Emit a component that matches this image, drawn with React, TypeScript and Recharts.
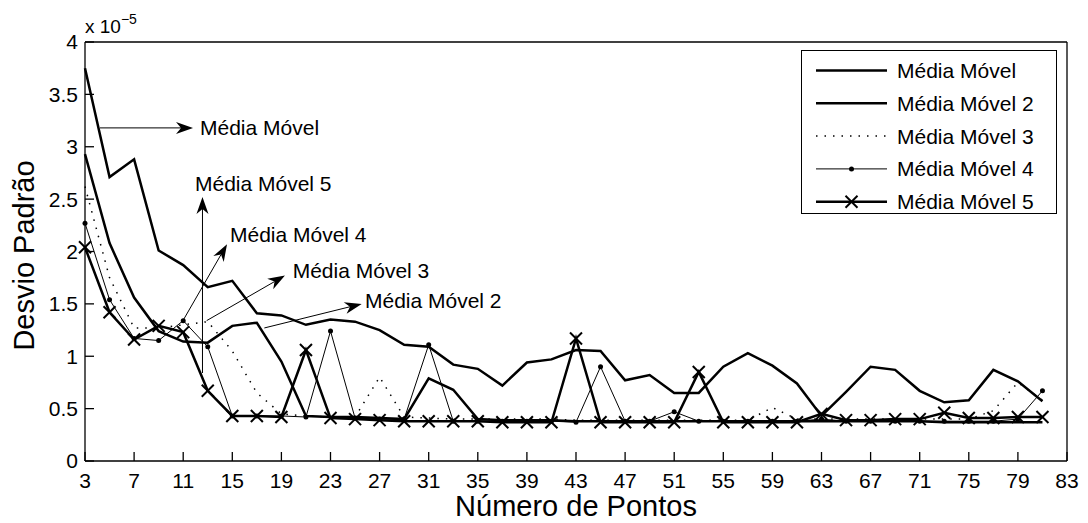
import { Legend, Line, LineChart, ReferenceDot, ReferenceLine, XAxis, YAxis } from "recharts";

// número de pontos da janela
const pontos = [
  3, 5, 7, 9, 11, 13, 15, 17, 19, 21, 23, 25, 27, 29, 31, 33, 35, 37, 39, 41,
  43, 45, 47, 49, 51, 53, 55, 57, 59, 61, 63, 65, 67, 69, 71, 73, 75, 77, 79, 81,
];

// desvio padrão (x 10^-5)
const mediaMovel = [
  3.75, 2.71, 2.88, 2.01, 1.87, 1.66, 1.72, 1.41, 1.39, 1.3, 1.35, 1.33, 1.25, 1.11, 1.09, 0.92, 0.88, 0.72, 0.94, 0.97,
  1.06, 1.05, 0.77, 0.82, 0.65, 0.65, 0.9, 1.03, 0.91, 0.74, 0.43, 0.66, 0.9, 0.87, 0.67, 0.56, 0.58, 0.87, 0.76, 0.57,
];
const mediaMovel2 = [
  2.93, 2.08, 1.56, 1.24, 1.14, 1.13, 1.29, 1.32, 0.95, 0.43, 0.42, 0.42, 0.41, 0.4, 0.79, 0.68, 0.4, 0.39, 0.39, 0.39,
  0.38, 0.38, 0.38, 0.38, 0.38, 0.38, 0.38, 0.38, 0.38, 0.38, 0.38, 0.38, 0.38, 0.38, 0.38, 0.37, 0.37, 0.37, 0.37, 0.37,
];
const mediaMovel3 = [
  2.62, 1.75, 1.27, 1.27, 1.3, 1.33, 1.05, 0.65, 0.45, 0.43, 0.42, 0.42, 0.8, 0.42, 0.41, 0.4, 0.4, 0.4, 0.4, 0.4,
  0.39, 0.39, 0.39, 0.39, 0.39, 0.39, 0.39, 0.39, 0.51, 0.4, 0.4, 0.4, 0.4, 0.4, 0.4, 0.4, 0.4, 0.48, 0.75, 0.58,
];
const mediaMovel4 = [
  2.27, 1.54, 1.17, 1.15, 1.34, 1.09, 0.43, 0.43, 0.43, 0.42, 1.24, 0.41, 0.4, 0.4, 1.11, 0.38, 0.38, 0.38, 0.38, 0.38,
  0.37, 0.9, 0.38, 0.38, 0.47, 0.38, 0.38, 0.38, 0.38, 0.38, 0.4, 0.38, 0.38, 0.38, 0.38, 0.38, 0.38, 0.38, 0.4, 0.67,
];
const mediaMovel5 = [
  2.04, 1.42, 1.16, 1.29, 1.23, 0.67, 0.43, 0.43, 0.42, 1.06, 0.41, 0.4, 0.39, 0.38, 0.38, 0.38, 0.38, 0.37, 0.37, 0.37,
  1.17, 0.37, 0.37, 0.37, 0.37, 0.85, 0.37, 0.37, 0.37, 0.37, 0.45, 0.39, 0.39, 0.4, 0.4, 0.46, 0.41, 0.41, 0.42, 0.42,
];

const xTicks = [3, 7, 11, 15, 19, 23, 27, 31, 35, 39, 43, 47, 51, 55, 59, 63, 67, 71, 75, 79, 83];
const yTicks = [0, 0.5, 1, 1.5, 2, 2.5, 3, 3.5, 4];

const seriesNames = ["Média Móvel", "Média Móvel 2", "Média Móvel 3", "Média Móvel 4", "Média Móvel 5"];

// setas de anotação: cauda -> ponta, e onde começa o texto (unidades dos eixos)
const annotations = [
  { text: "Média Móvel", from: [4.22, 3.18], to: [11.8, 3.18], label: [12.37, 3.18] },
  { text: "Média Móvel 5", from: [12.57, 0.84], to: [12.57, 2.52], label: [11.96, 2.65] },
  { text: "Média Móvel 4", from: [10.98, 1.34], to: [14.57, 2.07], label: [14.81, 2.16] },
  { text: "Média Móvel 3", from: [12.91, 1.34], to: [19.29, 1.77], label: [19.92, 1.82] },
  { text: "Média Móvel 2", from: [17.61, 1.27], to: [25.54, 1.5], label: [25.81, 1.53] },
];

const data = pontos.map((x, i) => ({
  x,
  m1: mediaMovel[i],
  m2: mediaMovel2[i],
  m3: mediaMovel3[i],
  m4: mediaMovel4[i],
  m5: mediaMovel5[i],
}));

const FONT = "'Liberation Sans', Arial, Helvetica, sans-serif";

function arrowShape(props: any) {
  const { x1, y1, x2, y2 } = props;
  const ang = Math.atan2(y2 - y1, x2 - x1);
  const c = Math.cos(ang);
  const s = Math.sin(ang);
  const L = 17;
  const W = 6;
  const N = 12;
  const bx = x2 - L * c;
  const by = y2 - L * s;
  const nx = x2 - N * c;
  const ny = y2 - N * s;
  const pts = `${x2},${y2} ${bx - W * s},${by + W * c} ${nx},${ny} ${bx + W * s},${by - W * c}`;
  return (
    <g>
      <line x1={x1} y1={y1} x2={nx} y2={ny} stroke="#000" strokeWidth={1} />
      <polygon points={pts} fill="#000" />
    </g>
  );
}

function XMark(props: any) {
  const { cx, cy } = props;
  const r = 6;
  return (
    <g>
      <line x1={cx - r} y1={cy - r} x2={cx + r} y2={cy + r} stroke="#000" strokeWidth={2} />
      <line x1={cx - r} y1={cy + r} x2={cx + r} y2={cy - r} stroke="#000" strokeWidth={2} />
    </g>
  );
}

function LegendBox() {
  const rows = [
    { dash: undefined, width: 2.5, marker: null },
    { dash: undefined, width: 2.5, marker: null },
    { dash: "1.5 7", width: 1.5, marker: null },
    { dash: undefined, width: 1, marker: "dot" },
    { dash: undefined, width: 2.5, marker: "x" },
  ];
  return (
    <div
      style={{
        width: 256,
        height: 164,
        border: "1.5px solid #000",
        background: "#fff",
        boxSizing: "border-box",
      }}
    >
      <svg width={253} height={161} style={{ display: "block", overflow: "visible" }}>
        {rows.map((r, i) => {
          const y = 19.5 + i * 32.8;
          return (
            <g key={seriesNames[i]}>
              <line x1={14} y1={y} x2={85} y2={y} stroke="#000" strokeWidth={r.width} strokeDasharray={r.dash} />
              {r.marker === "dot" && <circle cx={49.5} cy={y} r={2.5} fill="#000" />}
              {r.marker === "x" && <XMark cx={49.5} cy={y} />}
              <text x={95} y={y} dy="0.36em" fontSize={21} fontFamily={FONT} fill="#000">
                {seriesNames[i]}
              </text>
            </g>
          );
        })}
      </svg>
    </div>
  );
}

export default function App() {
  const axisStroke = { stroke: "#000", strokeWidth: 1.3 };
  return (
    <div style={{ position: "absolute", left: 0, top: 0, fontFamily: FONT, background: "#fff" }}>
      <LineChart width={1088} height={523} data={data} margin={{ top: 0, right: 0, bottom: 0, left: 0 }}>
        <XAxis
          dataKey="x"
          type="number"
          domain={[3, 83]}
          ticks={xTicks}
          interval={0}
          height={62}
          tickSize={-9}
          tickMargin={21}
          axisLine={axisStroke}
          tickLine={axisStroke}
          tick={{ fill: "#000", fontSize: 21 }}
          label={(p: any) => {
            const vb = p.viewBox;
            return (
              <text x={vb.x + vb.width / 2} y={vb.y + 55} textAnchor="middle" fontSize={29} fontFamily={FONT} fill="#000">
                Número de Pontos
              </text>
            );
          }}
        />
        <XAxis
          xAxisId="top"
          orientation="top"
          type="number"
          dataKey="x"
          domain={[3, 83]}
          ticks={xTicks}
          interval={0}
          height={42}
          tickSize={-9}
          tick={false}
          axisLine={axisStroke}
          tickLine={axisStroke}
        />
        <YAxis
          type="number"
          domain={[0, 4]}
          ticks={yTicks}
          interval={0}
          width={85}
          tickSize={-9}
          tickMargin={16}
          axisLine={axisStroke}
          tickLine={axisStroke}
          tick={{ fill: "#000", fontSize: 21 }}
          label={(p: any) => {
            const vb = p.viewBox;
            const cy = vb.y + vb.height / 2 + 4;
            return (
              <g>
                <text
                  x={24}
                  y={cy}
                  transform={`rotate(-90 24 ${cy})`}
                  textAnchor="middle"
                  dy="0.36em"
                  fontSize={29}
                  fontFamily={FONT}
                  fill="#000"
                >
                  Desvio Padrão
                </text>
                <text x={vb.x + vb.width} y={vb.y - 9} fontSize={19} fontFamily={FONT} fill="#000">
                  <tspan>x 10</tspan>
                  <tspan dy={-9} fontSize={14}>
                    −5
                  </tspan>
                </text>
              </g>
            );
          }}
        />
        <YAxis
          yAxisId="right"
          orientation="right"
          type="number"
          domain={[0, 4]}
          ticks={yTicks}
          interval={0}
          width={21}
          tickSize={-9}
          tick={false}
          axisLine={axisStroke}
          tickLine={axisStroke}
        />

        <Line
          type="linear"
          dataKey="m1"
          name={seriesNames[0]}
          stroke="#000"
          strokeWidth={2.5}
          dot={false}
          activeDot={false}
          isAnimationActive={false}
        />
        <Line
          type="linear"
          dataKey="m2"
          name={seriesNames[1]}
          stroke="#000"
          strokeWidth={2.5}
          dot={false}
          activeDot={false}
          isAnimationActive={false}
        />
        <Line
          type="linear"
          dataKey="m3"
          name={seriesNames[2]}
          stroke="#000"
          strokeWidth={1.5}
          strokeDasharray="1.5 7"
          dot={false}
          activeDot={false}
          isAnimationActive={false}
        />
        <Line
          type="linear"
          dataKey="m4"
          name={seriesNames[3]}
          stroke="#000"
          strokeWidth={1}
          dot={(p: any) => <circle key={`d4-${p.index}`} cx={p.cx} cy={p.cy} r={2.5} fill="#000" />}
          activeDot={false}
          isAnimationActive={false}
        />
        <Line
          type="linear"
          dataKey="m5"
          name={seriesNames[4]}
          stroke="#000"
          strokeWidth={2.5}
          dot={(p: any) => <XMark key={`d5-${p.index}`} cx={p.cx} cy={p.cy} />}
          activeDot={false}
          isAnimationActive={false}
        />

        {annotations.map((a) => (
          <ReferenceLine
            key={`arrow-${a.text}`}
            segment={[
              { x: a.from[0], y: a.from[1] },
              { x: a.to[0], y: a.to[1] },
            ]}
            ifOverflow="visible"
            shape={arrowShape}
          />
        ))}
        {annotations.map((a) => (
          <ReferenceDot
            key={`text-${a.text}`}
            x={a.label[0]}
            y={a.label[1]}
            ifOverflow="visible"
            shape={(p: any) => (
              <text x={p.cx} y={p.cy} dy="0.36em" fontSize={21} fontFamily={FONT} fill="#000">
                {a.text}
              </text>
            )}
          />
        ))}

        <Legend
          layout="horizontal"
          verticalAlign="middle"
          align="center"
          wrapperStyle={{ left: 801, top: 50, width: 256, height: 164 }}
          content={() => <LegendBox />}
        />
      </LineChart>
    </div>
  );
}
